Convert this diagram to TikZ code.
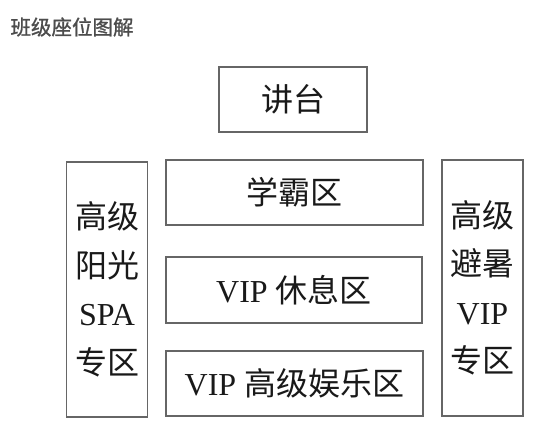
\documentclass[tikz,border=0pt]{standalone}
\usepackage{fontspec}
\setmainfont{Liberation Serif}
\newfontfamily\cjk{Noto Sans CJK SC}
\newfontfamily\cjkhead[FakeBold=1.2]{Noto Sans CJK SC}
\usepackage{tikz}

\begin{document}
\begin{tikzpicture}[x=1pt,y=-1pt]
\tikzstyle{every node}+=[inner sep=0pt]
\tikzstyle{zone}=[draw=black!60, line width=1.6pt, text=black!90,
  font=\fontsize{32}{48.5}\selectfont, align=center]
\useasboundingbox (0,0) rectangle (550,423);
% title
\node [text=black!70, font=\cjkhead\fontsize{20.5}{24}\selectfont] (title) at (72,27) {班级座位图解};
% front
\node [zone, minimum width=148pt, minimum height=65pt] (podium) at (293,99.5) {\cjk 讲台};
% middle rows
\node [zone, minimum width=257pt, minimum height=65pt] (xueba) at (294.5,192.5) {\cjk 学霸区};
\node [zone, minimum width=256pt, minimum height=66pt] (rest) at (294,290) {VIP {\cjk 休息区}};
\node [zone, minimum width=257pt, minimum height=65pt] (fun) at (294.5,383.5) {VIP {\cjk 高级娱乐区}};
% side columns
\node [zone, minimum width=81pt, minimum height=255pt] (spa) at (107,289.5)
  {{\cjk 高级}\\{\cjk 阳光}\\SPA\\{\cjk 专区}};
\node [zone, minimum width=81pt, minimum height=256pt] (cool) at (482.5,288)
  {{\cjk 高级}\\{\cjk 避暑}\\VIP\\{\cjk 专区}};
\end{tikzpicture}
\end{document}
